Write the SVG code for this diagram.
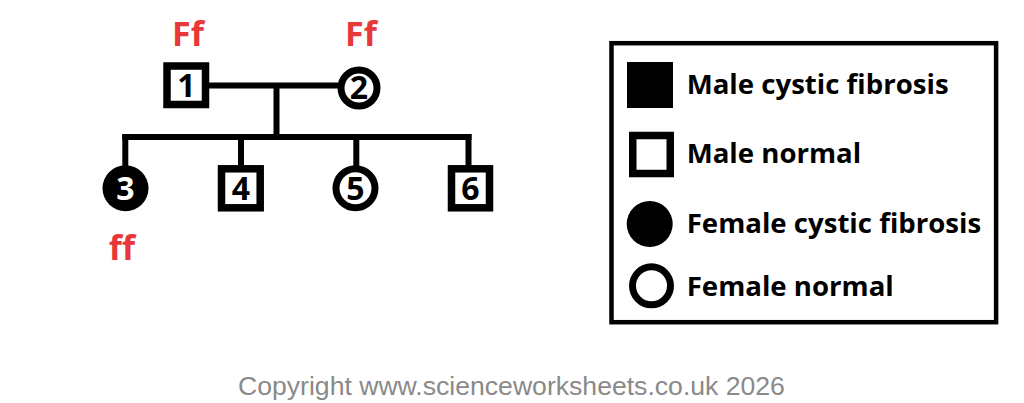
<svg xmlns="http://www.w3.org/2000/svg" width="1024" height="403" viewBox="0 0 1024 403">
<style>
.ln{stroke:#000;stroke-width:6;fill:none;stroke-linecap:butt}
.sq{fill:#fff;stroke:#000;stroke-width:7.5}
.ci{fill:#fff;stroke:#000;stroke-width:7}
.num{font-family:"Open Sans","DejaVu Sans",sans-serif;font-weight:700;font-size:32px;text-anchor:middle;fill:#000}
.geno{font-family:"Open Sans","DejaVu Sans",sans-serif;font-weight:700;font-size:34px;text-anchor:middle;fill:#e8383a}
.leg{font-family:"Open Sans","DejaVu Sans",sans-serif;font-weight:700;font-size:27.6px;fill:#000}
</style>
<rect width="1024" height="403" fill="#fff"/>
<g id="connectors">
<line class="ln" x1="209" y1="85.5" x2="338" y2="85.5"/>
<line class="ln" x1="276.5" y1="85.5" x2="276.5" y2="137"/>
<line class="ln" x1="122.3" y1="137" x2="471.5" y2="137"/>
<line class="ln" x1="125.3" y1="134" x2="125.3" y2="166"/>
<line class="ln" x1="241" y1="137" x2="241" y2="166"/>
<line class="ln" x1="356.3" y1="137" x2="356.3" y2="166"/>
<line class="ln" x1="468.5" y1="134" x2="468.5" y2="166"/>
</g>
<g id="node1">
<rect class="sq" x="167" y="66" width="38.5" height="38.5"/>
<text class="num" x="186.3" y="96.8">1</text>
<text class="geno" x="188" y="46">Ff</text>
</g>
<g id="node2">
<circle class="ci" cx="359" cy="88" r="18"/>
<text class="num" x="359" y="99.3">2</text>
<text class="geno" x="361" y="46">Ff</text>
</g>
<g id="node3">
<circle cx="125.5" cy="188.3" r="23" fill="#000"/>
<text class="num" x="125.5" y="199.8" style="fill:#fff">3</text>
<text class="geno" x="122" y="260">ff</text>
</g>
<g id="node4">
<rect class="sq" x="221.5" y="168.8" width="38.7" height="39"/>
<text class="num" x="241" y="199.8">4</text>
</g>
<g id="node5">
<circle class="ci" cx="355.5" cy="188.3" r="19.5"/>
<text class="num" x="355.5" y="199.8">5</text>
</g>
<g id="node6">
<rect class="sq" x="451.5" y="168.8" width="38" height="39"/>
<text class="num" x="470.5" y="199.8">6</text>
</g>
<g id="legend">
<rect x="611.5" y="43.2" width="384.6" height="279" fill="none" stroke="#000" stroke-width="4.5"/>
<rect x="627" y="62" width="46" height="46" fill="#000"/>
<text class="leg" x="686.7" y="94">Male cystic fibrosis</text>
<rect class="sq" x="632.75" y="135.5" width="37.5" height="38"/>
<text class="leg" x="686.7" y="163.3">Male normal</text>
<circle cx="649.7" cy="224" r="23" fill="#000"/>
<text class="leg" x="686.7" y="233.3">Female cystic fibrosis</text>
<circle class="ci" cx="651.5" cy="285.8" r="19"/>
<text class="leg" x="686.7" y="295.7">Female normal</text>
</g>
<text x="238" y="395" font-family="Liberation Sans, Arial, sans-serif" font-size="26.6" fill="#8a8a8a">Copyright www.scienceworksheets.co.uk 2026</text>
</svg>
